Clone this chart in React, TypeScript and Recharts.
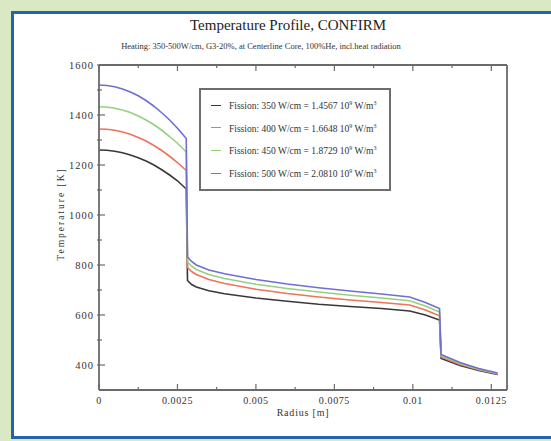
import React from "react";
import { LineChart, Line, XAxis, YAxis, Legend } from "recharts";

// radius [m] sampled along the pellet / gap / cladding
const radius = [
  0, 0.00025, 0.0005, 0.00075, 0.001, 0.00125, 0.0015, 0.00175, 0.002, 0.00225, 0.0025, 0.00278,
  0.00282, 0.00295, 0.0031, 0.0035, 0.004, 0.005, 0.006, 0.007, 0.008, 0.009, 0.0099, 0.0104,
  0.01085, 0.0109, 0.0115, 0.0121, 0.0127,
];

// temperature [K] per fission power
const fission350 = [
  1260, 1259, 1255, 1249, 1240, 1229, 1216, 1200, 1181, 1160, 1137, 1104,
  738, 722, 712, 697, 685, 668, 655, 643, 634, 626, 616, 600,
  580, 426, 398, 378, 362,
];
const fission400 = [
  1344, 1343, 1339, 1332, 1323, 1310, 1296, 1278, 1258, 1235, 1210, 1178,
  790, 774, 762, 742, 726, 703, 686, 672, 660, 650, 640, 620,
  597, 432, 402, 381, 364,
];
const fission450 = [
  1433, 1432, 1427, 1420, 1410, 1396, 1380, 1361, 1339, 1314, 1287, 1252,
  812, 795, 782, 762, 746, 723, 706, 692, 679, 668, 657, 636,
  612, 437, 406, 383, 366,
];
const fission500 = [
  1520, 1518, 1513, 1504, 1492, 1477, 1458, 1435, 1409, 1380, 1347, 1306,
  832, 814, 800, 780, 765, 742, 724, 709, 696, 684, 672, 650,
  626, 442, 410, 386, 368,
];

const powers = ["350", "400", "450", "500"];
const heatDensity = ["1.4567", "1.6648", "1.8729", "2.0810"];
const seriesKeys = ["t350", "t400", "t450", "t500"];
const lineColors = ["#383838", "#f2715a", "#93d27c", "#6e6ed6"];

const xMajor = [0, 0.0025, 0.005, 0.0075, 0.01, 0.0125];
const xTicks = [0, 0.00125, 0.0025, 0.00375, 0.005, 0.00625, 0.0075, 0.00875, 0.01, 0.01125, 0.0125];
const yMajor = [400, 600, 800, 1000, 1200, 1400, 1600];
const yTicks = [400, 500, 600, 700, 800, 900, 1000, 1100, 1200, 1300, 1400, 1500, 1600];

const data = radius.map((r, i) => ({
  r,
  t350: fission350[i],
  t400: fission400[i],
  t450: fission450[i],
  t500: fission500[i],
}));

const axisColor = "#6a6a6a";
const textColor = "#333";
const font = "'Liberation Serif', 'DejaVu Serif', serif";

const BottomTick = (props: any) => {
  const { x, y, payload } = props;
  const major = xMajor.includes(payload.value);
  return (
    <g>
      <line x1={x} y1={y} x2={x} y2={y - (major ? 6 : 3)} stroke={axisColor} strokeWidth={1.2} />
      {major && (
        <text x={x} y={y + 14} textAnchor="middle" fontSize={10} fill={textColor} fontFamily={font} letterSpacing={0.6}>
          {String(payload.value)}
        </text>
      )}
    </g>
  );
};

const TopTick = (props: any) => {
  const { x, y, payload } = props;
  const major = xMajor.includes(payload.value);
  return <line x1={x} y1={y} x2={x} y2={y + (major ? 6 : 3)} stroke={axisColor} strokeWidth={1.2} />;
};

const LeftTick = (props: any) => {
  const { x, y, payload } = props;
  const major = yMajor.includes(payload.value);
  return (
    <g>
      <line x1={x - 2} y1={y} x2={x + (major ? 6 : 3)} y2={y} stroke={axisColor} strokeWidth={1.2} />
      {major && (
        <text x={x - 5} y={y + 3.5} textAnchor="end" fontSize={10.5} fill={textColor} fontFamily={font} letterSpacing={1}>
          {payload.value}
        </text>
      )}
    </g>
  );
};

const RightTick = (props: any) => {
  const { x, y, payload } = props;
  const major = yMajor.includes(payload.value);
  return <line x1={x} y1={y} x2={x - (major ? 6 : 3)} y2={y} stroke={axisColor} strokeWidth={1.2} />;
};

const LegendBox = () => (
  <div
    style={{
      border: "2px solid #6d6d6d",
      background: "#fff",
      padding: "4px 6px 4px 10px",
      fontFamily: font,
      fontSize: 9.5,
      color: textColor,
      lineHeight: "19.5px",
    }}
  >
    {powers.map((p, i) => (
      <div key={p} style={{ display: "flex", alignItems: "center", whiteSpace: "nowrap" }}>
        <span style={{ display: "inline-block", width: 10, height: 0, borderTop: `1.5px solid ${lineColors[i]}`, marginRight: 8 }} />
        <span>
          Fission: {p} W/cm = {heatDensity[i]} 10<sup style={{ fontSize: 6 }}>9</sup> W/m<sup style={{ fontSize: 6 }}>3</sup>
        </span>
      </div>
    ))}
  </div>
);

export default function App() {
  return (
    <div style={{ position: "absolute", left: 0, top: 0, width: 551, height: 441, background: "#dbe8c4", overflow: "hidden" }}>
      <div
        style={{
          position: "absolute",
          left: 11,
          top: 11,
          width: 560,
          height: 428,
          boxSizing: "border-box",
          border: "3px solid #2463ae",
          background: "#fff",
        }}
      />
      <div style={{ position: "absolute", left: 0, top: 0 }}>
        <LineChart width={551} height={441} data={data} margin={{ top: 61, right: 40, bottom: 21, left: 59 }}>
          <text x={288} y={30} textAnchor="middle" fontSize={15} fill="#222" fontFamily={font}>
            Temperature Profile, CONFIRM
          </text>
          <text x={261} y={49} textAnchor="middle" fontSize={8.5} fill={textColor} fontFamily={font}>
            Heating: 350-500W/cm, G3-20%, at Centerline Core, 100%He, incl.heat radiation
          </text>
          <text
            x={0}
            y={0}
            transform="translate(64 214) rotate(-90)"
            textAnchor="middle"
            fontSize={9.5}
            fill={textColor}
            fontFamily={font}
            letterSpacing={2}
          >
            Temperature [K]
          </text>
          <text x={303} y={416} textAnchor="middle" fontSize={10} fill={textColor} fontFamily={font} letterSpacing={0.8}>
            Radius [m]
          </text>
          <XAxis
            dataKey="r"
            type="number"
            domain={[0, 0.013]}
            ticks={xTicks}
            interval={0}
            height={30}
            tickSize={0}
            tickMargin={0}
            tickLine={false}
            tick={<BottomTick />}
            axisLine={{ stroke: axisColor, strokeWidth: 1.8 }}
          />
          <XAxis
            xAxisId="top"
            orientation="top"
            dataKey="r"
            type="number"
            domain={[0, 0.013]}
            ticks={xTicks}
            interval={0}
            height={4}
            tickSize={0}
            tickMargin={0}
            tickLine={false}
            tick={<TopTick />}
            axisLine={{ stroke: axisColor, strokeWidth: 1.8 }}
          />
          <YAxis
            type="number"
            domain={[300, 1600]}
            ticks={yTicks}
            interval={0}
            width={40}
            tickSize={0}
            tickMargin={0}
            tickLine={false}
            tick={<LeftTick />}
            axisLine={{ stroke: axisColor, strokeWidth: 1.8 }}
          />
          <YAxis
            yAxisId="right"
            orientation="right"
            type="number"
            domain={[300, 1600]}
            ticks={yTicks}
            interval={0}
            width={4}
            tickSize={0}
            tickMargin={0}
            tickLine={false}
            tick={<RightTick />}
            axisLine={{ stroke: axisColor, strokeWidth: 1.8 }}
          />
          <Legend
            layout="vertical"
            align="center"
            verticalAlign="middle"
            content={<LegendBox />}
            wrapperStyle={{ left: 199, top: 88, width: 192, height: 82 }}
          />
          {seriesKeys.map((k, i) => (
            <Line
              key={k}
              type="linear"
              dataKey={k}
              stroke={lineColors[i]}
              strokeWidth={1.6}
              dot={false}
              isAnimationActive={false}
            />
          ))}
        </LineChart>
      </div>
    </div>
  );
}
